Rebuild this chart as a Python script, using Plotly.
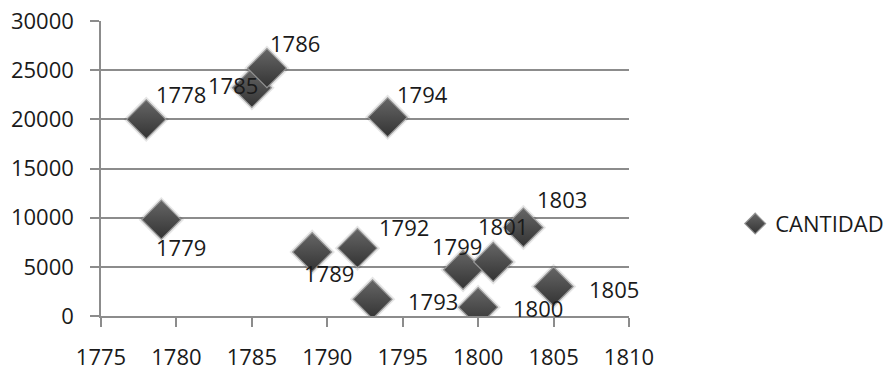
import plotly.graph_objects as go

# Year of each record and the quantity registered
years = [1778, 1779, 1785, 1786, 1789, 1792, 1793, 1794, 1799, 1800, 1801, 1803, 1805]
cantidad = [20000, 9800, 23200, 25200, 6500, 6900, 1700, 20200, 4700, 900, 5500, 9000, 3000]

x_ticks = [1775, 1780, 1785, 1790, 1795, 1800, 1805, 1810]
y_ticks = [0, 5000, 10000, 15000, 20000, 25000, 30000]

# Pixel offsets (dx, dy) of each data label from its marker
label_offsets = [(35, 25), (20, -27), (-19, 3), (28, 25), (17, -21), (47, 21),
                 (60, -2), (35, 23), (-6, 24), (60, -1), (10, 36), (39, 29), (60, -2)]

FONT = "Open Sans"
GRID = "#8c8c8c"
TEXT = "#1a1a1a"
FS = 22

fig = go.Figure()

# soft halo behind the diamonds
fig.add_trace(go.Scatter(
    x=years, y=cantidad, mode="markers", showlegend=False, hoverinfo="skip",
    marker=dict(symbol="diamond", size=35, color="rgba(0,0,0,0.10)", line=dict(width=0)),
))

fig.add_trace(go.Scatter(
    x=years, y=cantidad, mode="markers", name="CANTIDAD",
    marker=dict(symbol="diamond", size=30, color="#666666",
                gradient=dict(type="vertical", color="#333333"),
                line=dict(color="#959595", width=1.2)),
))

for yr, val, (dx, dy) in zip(years, cantidad, label_offsets):
    fig.add_annotation(x=yr, y=val, text=str(yr), showarrow=False,
                       xshift=dx, yshift=dy,
                       font=dict(family=FONT, size=FS, color=TEXT))

fig.update_layout(
    width=889, height=373,
    margin=dict(l=101, r=260, t=21, b=57, autoexpand=False),
    paper_bgcolor="white", plot_bgcolor="white",
    font=dict(family=FONT, size=FS, color=TEXT),
    legend=dict(xref="container", yref="container", x=0.827, y=0.40,
                xanchor="left", yanchor="middle",
                font=dict(family=FONT, size=FS, color=TEXT),
                itemwidth=30, bgcolor="rgba(0,0,0,0)"),
    xaxis=dict(range=[1775, 1810], tickvals=x_ticks, ticktext=[str(v) for v in x_ticks],
               showgrid=False, zeroline=False, showline=True, linecolor=GRID, linewidth=1.5,
               ticks="outside", ticklen=9, tickwidth=1.5, tickcolor=GRID,
               ticklabelstandoff=12, automargin=False,
               tickfont=dict(family=FONT, size=FS, color=TEXT)),
    yaxis=dict(range=[0, 30000], tickvals=y_ticks, ticktext=[str(v) for v in y_ticks],
               showgrid=True, gridcolor=GRID, gridwidth=1.5, zeroline=False,
               showline=True, linecolor=GRID, linewidth=1.5,
               ticks="outside", ticklen=9, tickwidth=1.5, tickcolor=GRID,
               ticklabelstandoff=12, automargin=False,
               tickfont=dict(family=FONT, size=FS, color=TEXT)),
)

fig.write_html("out.html")
